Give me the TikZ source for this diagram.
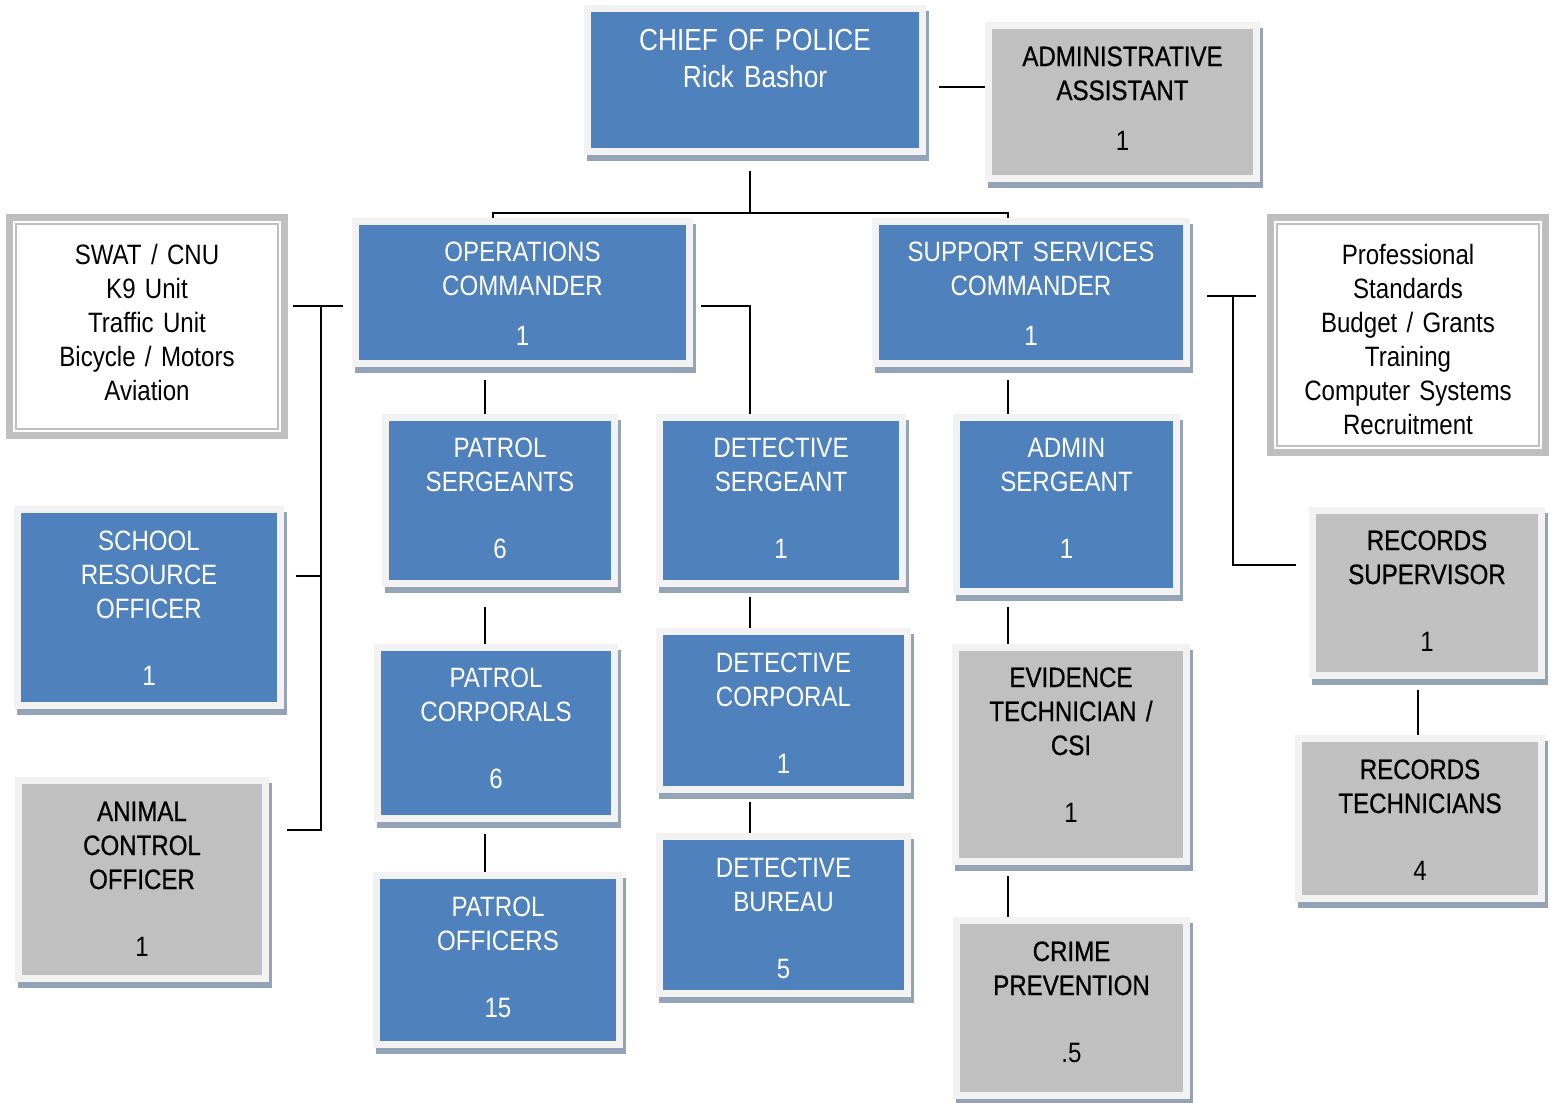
\documentclass[tikz,border=0pt]{standalone}
\usepackage{fontspec}
\setmainfont{Liberation Sans}[FakeStretch=0.86]
\newfontfamily\boldish{Liberation Sans}[FakeStretch=0.86,FakeBold=0.7]
\usepackage{tikz}

\definecolor{boxblue}{RGB}{79,129,189}
\definecolor{boxgray}{RGB}{192,192,192}
\definecolor{framegray}{RGB}{242,242,242}
\definecolor{shadowc}{RGB}{149,163,183}
\definecolor{listgray}{RGB}{191,191,191}

\begin{document}
\begin{tikzpicture}[x=1pt,y=-1pt]
\tikzset{orgbox/.style = {draw=framegray, line width=7pt, inner sep=3.5pt, align=center,
  preaction={fill=shadowc, draw=shadowc, line width=7pt, transform canvas={xshift=3pt,yshift=-6pt}},
  font=\fontsize{28}{34}\selectfont}}
\tikzset{bluebox/.style = {orgbox, fill=boxblue, text=white}}
\tikzset{graybox/.style = {orgbox, fill=boxgray, text=black, font=\boldish\fontsize{28}{34}\selectfont}}
\tikzset{listbox/.style = {fill=white, draw=listgray, line width=2pt, inner sep=0pt, align=center,
  preaction={draw=listgray, line width=20pt}, preaction={draw=white, line width=6pt},
  font=\fontsize{28}{34}\selectfont}}
\tikzset{link/.style = {draw, line width=2pt}}
\useasboundingbox (0,0) rectangle (1551,1103);
% top
\node[bluebox, text width=328pt, text height=38pt, text depth=98pt, font=\fontsize{30.5}{37}\selectfont] (chief) at (755,80) {CHIEF OF POLICE\\Rick Bashor};
\node[graybox, text width=261pt, text height=37pt, text depth=109pt] (asst) at (1122.5,102) {ADMINISTRATIVE\\ASSISTANT\\[16pt]\normalfont 1};
% commanders
\node[bluebox, text width=327pt, text height=36pt, text depth=99pt] (ops) at (522.5,292.5) {OPERATIONS\\COMMANDER\\[16pt]1};
\node[bluebox, text width=304pt, text height=36pt, text depth=99pt] (supp) at (1031,292.5) {SUPPORT SERVICES\\COMMANDER\\[16pt]1};
\node[listbox, text width=262pt, text height=40pt, text depth=165pt] (swat) at (147,326.5) {SWAT / CNU\\K9 Unit\\Traffic Unit\\Bicycle / Motors\\Aviation};
\node[listbox, text width=262pt, text height=40pt, text depth=182pt] (prof) at (1408,335) {Professional\\Standards\\Budget / Grants\\Training\\Computer Systems\\Recruitment};
% operations
\node[bluebox, text width=222pt, text height=36pt, text depth=123pt] (patsgt) at (500,500.5) {PATROL\\SERGEANTS\\[33pt]6};
\node[bluebox, text width=230pt, text height=36pt, text depth=128pt] (patcpl) at (496,733) {PATROL\\CORPORALS\\[33pt]6};
\node[bluebox, text width=236pt, text height=37pt, text depth=125pt] (patoff) at (498,960) {PATROL\\OFFICERS\\[33pt]15};
\node[bluebox, text width=236pt, text height=36pt, text depth=123pt] (detsgt) at (781,500.5) {DETECTIVE\\SERGEANT\\[33pt]1};
\node[bluebox, text width=241pt, text height=37pt, text depth=114pt] (detcpl) at (783.5,710.5) {DETECTIVE\\CORPORAL\\[33pt]1};
\node[bluebox, text width=241pt, text height=37pt, text depth=113pt] (detbur) at (783.5,915) {DETECTIVE\\BUREAU\\[33pt]5};
\node[bluebox, text width=256pt, text height=37pt, text depth=152pt] (sro) at (149,607.5) {SCHOOL\\RESOURCE\\OFFICER\\[33pt]1};
\node[graybox, text width=240pt, text height=37pt, text depth=154pt] (animal) at (142,879.5) {ANIMAL\\CONTROL\\OFFICER\\[33pt]\normalfont 1};
% support
\node[bluebox, text width=213pt, text height=36pt, text depth=131pt] (admsgt) at (1066.5,504.5) {ADMIN\\SERGEANT\\[33pt]1};
\node[graybox, text width=224pt, text height=36pt, text depth=171pt] (evid) at (1071,754.5) {EVIDENCE\\TECHNICIAN /\\CSI\\[33pt]\normalfont 1};
\node[graybox, text width=223pt, text height=37pt, text depth=131pt] (crime) at (1071.5,1008) {CRIME\\PREVENTION\\[33pt]\normalfont .5};
\node[graybox, text width=222pt, text height=36pt, text depth=122pt] (recsup) at (1427,593) {RECORDS\\SUPERVISOR\\[33pt]\normalfont 1};
\node[graybox, text width=236pt, text height=37pt, text depth=116pt] (rectech) at (1420,818.5) {RECORDS\\TECHNICIANS\\[33pt]\normalfont 4};
%links
\coordinate (split) at ([xshift=-5pt,yshift=-57.5pt]chief.south);
\draw[link] ([xshift=-5pt,yshift=-16pt]chief.south) -- (split);
\draw[link] ([xshift=-29.5pt]ops.north) |- (split) -| ([xshift=-23pt]supp.north);
\draw[link] ([xshift=12.5pt,yshift=-7pt]chief.east) -- ([yshift=15pt]asst.west);

\draw[link] ([xshift=-9.5pt,yshift=-13.5pt]ops.west) -- ([xshift=14pt,yshift=20.5pt]swat.east);
\draw[link] ([xshift=-31.5pt,yshift=-13.5pt]ops.west) |- ([xshift=17.5pt,yshift=49.5pt]animal.east);
\draw[link] ([xshift=11.5pt,yshift=31.5pt]sro.east) -- ([xshift=-31.5pt,yshift=-283.5pt]ops.west);
\draw[link] ([xshift=7.5pt,yshift=-13.5pt]ops.east) -| ([xshift=-31pt]detsgt.north);
\draw[link] ([xshift=-37.5pt,yshift=-12.5pt]ops.south) -- ([xshift=-15pt]patsgt.north);
\draw[link] ([xshift=-15pt,yshift=-19.5pt]patsgt.south) -- ([xshift=-11pt]patcpl.north);
\draw[link] ([xshift=-11pt,yshift=-11.5pt]patcpl.south) -- ([xshift=-13pt]patoff.north);
\draw[link] ([xshift=-31pt,yshift=-9.5pt]detsgt.south) -- ([xshift=-33.5pt]detcpl.north);
\draw[link] ([xshift=-33.5pt,yshift=-8.5pt]detcpl.south) -- ([xshift=-33.5pt]detbur.north);

\draw[link] ([xshift=-23pt,yshift=-12.5pt]supp.south) -- ([xshift=-58.5pt]admsgt.north);
\draw[link] ([xshift=-58.5pt,yshift=-11.5pt]admsgt.south) -- ([xshift=-63pt]evid.north);
\draw[link] ([xshift=-63pt,yshift=-10.5pt]evid.south) -- ([xshift=-63.5pt]crime.north);
\draw[link] ([xshift=16.5pt,yshift=-3.5pt]supp.east) -- ([xshift=-20pt,yshift=39pt]prof.west);
\draw[link] ([xshift=42.5pt,yshift=-3.5pt]supp.east) |- ([xshift=-13.5pt,yshift=28pt]recsup.west);
\draw[link] ([xshift=-9pt,yshift=-10.5pt]recsup.south) -- ([xshift=-2pt]rectech.north);
\end{tikzpicture}
\end{document}
